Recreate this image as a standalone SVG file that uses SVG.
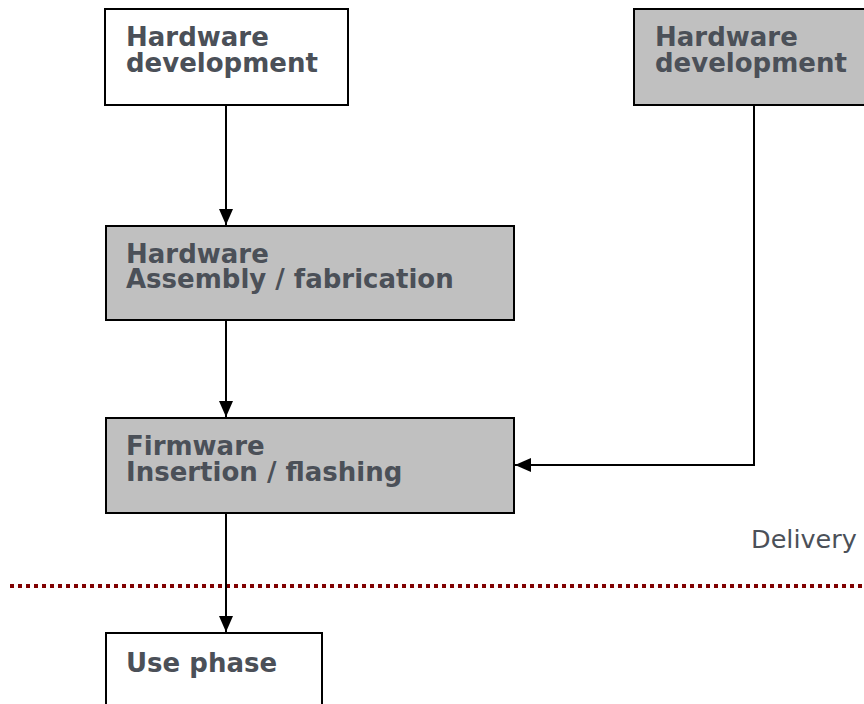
<svg xmlns="http://www.w3.org/2000/svg" width="864" height="704" viewBox="0 0 864 704">
<style>
.box{stroke:#000;stroke-width:2}
.white{fill:#fff}
.gray{fill:#c0c0c0}
.lbl{font-family:"DejaVu Sans",Verdana,sans-serif;font-weight:bold;font-size:26px;fill:#4b5058}
.note{font-family:"DejaVu Sans",Verdana,sans-serif;font-size:25.5px;fill:#4b5058}
.conn{stroke:#000;stroke-width:2;fill:none}
.sep{stroke:#800000;stroke-width:4;stroke-dasharray:4 4;fill:none}
</style>
<defs>
<marker id="arr" markerUnits="userSpaceOnUse" markerWidth="16" markerHeight="14" refX="16" refY="7" orient="auto">
<path d="M0,0 L16,7 L0,14 z" fill="#000"/>
</marker>
</defs>
<rect width="864" height="704" fill="#fff"/>
<g id="sep">
<line class="sep" x1="10" y1="586" x2="864" y2="586"/>
<text class="note" x="751" y="548">Delivery</text>
</g>
<g id="connectors">
<line class="conn" x1="226" y1="105" x2="226" y2="225" marker-end="url(#arr)"/>
<line class="conn" x1="226" y1="320" x2="226" y2="417" marker-end="url(#arr)"/>
<line class="conn" x1="226" y1="513" x2="226" y2="632" marker-end="url(#arr)"/>
<polyline class="conn" points="754,105 754,465 515,465" marker-end="url(#arr)"/>
</g>
<g id="hwdev1">
<rect class="box white" x="105" y="9" width="243" height="96"/>
<text class="lbl" x="126" y="46">Hardware<tspan x="126" dy="26">development</tspan></text>
</g>
<g id="hwdev2">
<rect class="box gray" x="634" y="9" width="240" height="96"/>
<text class="lbl" x="655" y="46">Hardware<tspan x="655" dy="26">development</tspan></text>
</g>
<g id="assembly">
<rect class="box gray" x="106" y="226" width="408" height="94"/>
<text class="lbl" x="126" y="263">Hardware<tspan x="126" dy="25">Assembly / fabrication</tspan></text>
</g>
<g id="firmware">
<rect class="box gray" x="106" y="418" width="408" height="95"/>
<text class="lbl" x="126" y="455">Firmware<tspan x="126" dy="26">Insertion / flashing</tspan></text>
</g>
<g id="use">
<rect class="box white" x="106" y="633" width="216" height="90"/>
<text class="lbl" x="126" y="672">Use phase</text>
</g>
</svg>
